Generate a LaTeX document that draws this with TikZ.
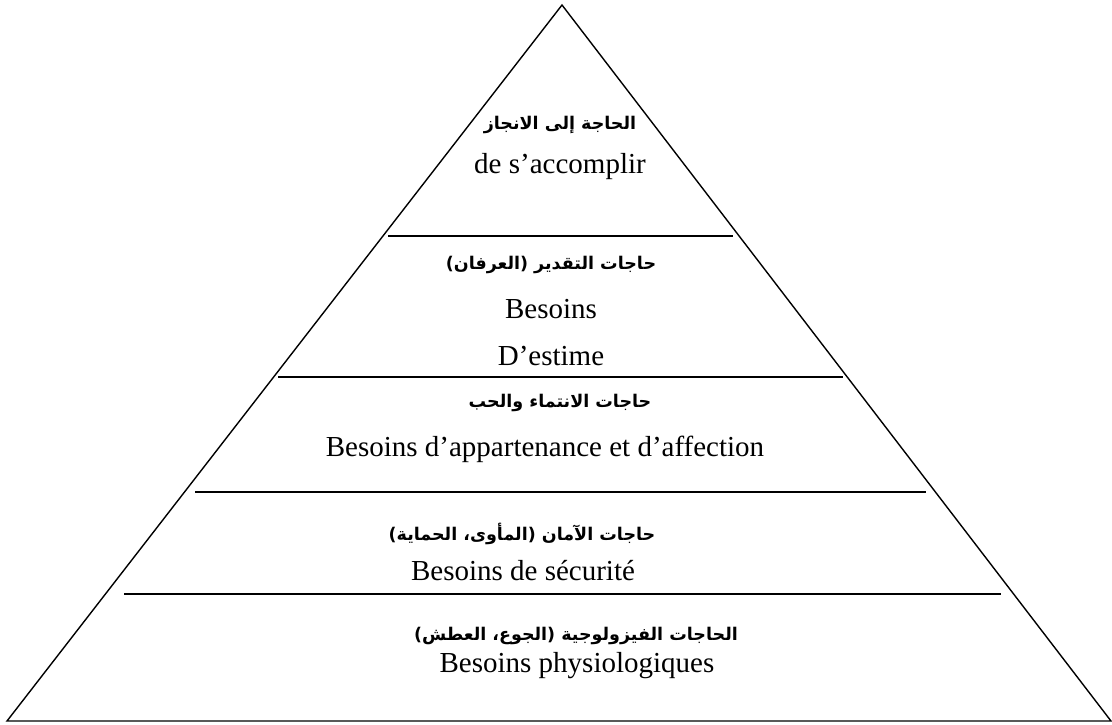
\documentclass[tikz,border=0pt]{standalone}
\usepackage{fontspec}
\setmainfont{Liberation Serif}
\newfontfamily\arabicfont[Script=Arabic]{DejaVu Sans}
\TeXXeTstate=1
\begin{document}
\begin{tikzpicture}[x=1pt,y=-1pt,
  edge/.style={line width=1.4pt, line join=miter},
  tier/.style={line width=1.8pt},
  ar/.style={font=\arabicfont\bfseries\fontsize{17.5}{20}\selectfont, inner sep=0pt, anchor=base},
  fr/.style={font=\fontsize{29}{33}\selectfont, inner sep=0pt, anchor=base}]
\useasboundingbox (0,0) rectangle (1112,724);
% pyramid outline
\coordinate (apex) at (562,5);
\coordinate (bl) at (7,721);
\coordinate (br) at (1111,721);
\draw[edge] (bl) -- (apex) -- (br) -- cycle;
% tier separators
\coordinate (s1l) at (388,236); \coordinate (s1r) at (733,236);
\coordinate (s2l) at (278,377); \coordinate (s2r) at (843,377);
\coordinate (s3l) at (195,492); \coordinate (s3r) at (926,492);
\coordinate (s4l) at (124,594); \coordinate (s4r) at (1001,594);
\draw[tier] (s1l) -- (s1r);
\draw[tier] (s2l) -- (s2r);
\draw[tier] (s3l) -- (s3r);
\draw[tier] (s4l) -- (s4r);
% tier 1
\node[ar] (t1a) at (560,129) {\beginR الحاجة إلى الانجاز\endR};
\node[fr] (t1b) at (560,173) {de s’accomplir};
% tier 2
\node[ar] (t2a) at (551,269) {\beginR حاجات التقدير (العرفان)\endR};
\node[fr] (t2b) at (551,318) {Besoins};
\node[fr] (t2c) at (551,365) {D’estime};
% tier 3
\node[ar] (t3a) at (560,407) {\beginR حاجات الانتماء والحب\endR};
\node[fr] (t3b) at (545,456) {Besoins d’appartenance et d’affection};
% tier 4
\node[ar] (t4a) at (522,540) {\beginR حاجات الآمان (المأوى، الحماية)\endR};
\node[fr] (t4b) at (523,580) {Besoins de sécurité};
% tier 5
\node[ar] (t5a) at (576,640) {\beginR الحاجات الفيزولوجية (الجوع، العطش)\endR};
\node[fr] (t5b) at (577,672) {Besoins physiologiques};
\end{tikzpicture}
\end{document}
